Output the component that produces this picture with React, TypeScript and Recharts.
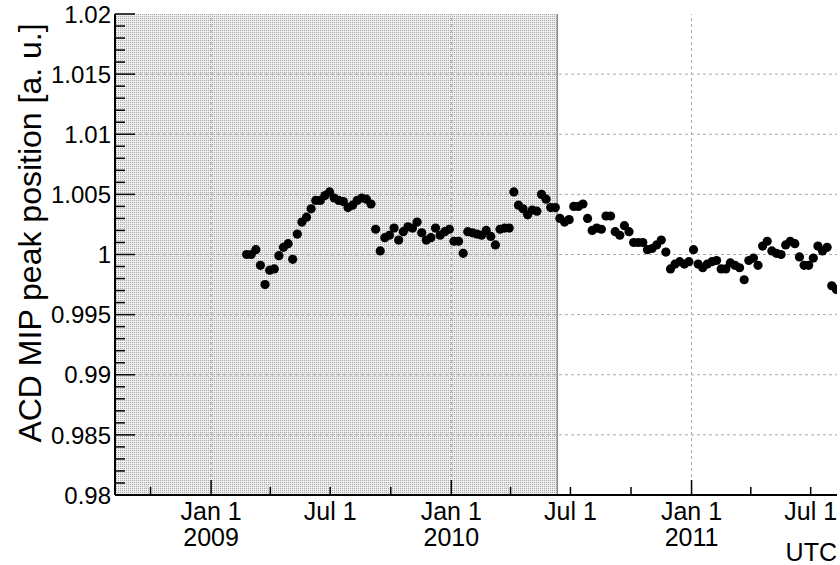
import { ScatterChart, Scatter, XAxis, YAxis, ReferenceArea, ReferenceLine, Label } from "recharts";

// weekly ACD calibration runs
const weeks = [
  "2009-02-24", "2009-03-03", "2009-03-10", "2009-03-17", "2009-03-24", "2009-03-31", "2009-04-07", "2009-04-14",
  "2009-04-21", "2009-04-28", "2009-05-05", "2009-05-12", "2009-05-19", "2009-05-26", "2009-06-02", "2009-06-09",
  "2009-06-16", "2009-06-23", "2009-06-30", "2009-07-07", "2009-07-14", "2009-07-21", "2009-07-28", "2009-08-04",
  "2009-08-11", "2009-08-18", "2009-08-25", "2009-09-01", "2009-09-08", "2009-09-15", "2009-09-22", "2009-09-29",
  "2009-10-06", "2009-10-13", "2009-10-20", "2009-10-27", "2009-11-03", "2009-11-10", "2009-11-17", "2009-11-24",
  "2009-12-01", "2009-12-08", "2009-12-15", "2009-12-22", "2009-12-29",
  "2010-01-05", "2010-01-12", "2010-01-19", "2010-01-26", "2010-02-02", "2010-02-09", "2010-02-16", "2010-02-23",
  "2010-03-02", "2010-03-09", "2010-03-16", "2010-03-23", "2010-03-30", "2010-04-06", "2010-04-13", "2010-04-20",
  "2010-04-27", "2010-05-04", "2010-05-11", "2010-05-18", "2010-05-25", "2010-06-01", "2010-06-08", "2010-06-15",
  "2010-06-22", "2010-06-29", "2010-07-06", "2010-07-13", "2010-07-20", "2010-07-27", "2010-08-03", "2010-08-10",
  "2010-08-17", "2010-08-24", "2010-08-31", "2010-09-07", "2010-09-14", "2010-09-21", "2010-09-28", "2010-10-05",
  "2010-10-12", "2010-10-19", "2010-10-26", "2010-11-02", "2010-11-09", "2010-11-16", "2010-11-23", "2010-11-30",
  "2010-12-07", "2010-12-14", "2010-12-21", "2010-12-28",
  "2011-01-04", "2011-01-11", "2011-01-18", "2011-01-25", "2011-02-01", "2011-02-08", "2011-02-15", "2011-02-22",
  "2011-03-01", "2011-03-08", "2011-03-15", "2011-03-22", "2011-03-29", "2011-04-05", "2011-04-12", "2011-04-19",
  "2011-04-26", "2011-05-03", "2011-05-10", "2011-05-17", "2011-05-24", "2011-05-31", "2011-06-07", "2011-06-14",
  "2011-06-21", "2011-06-28", "2011-07-05", "2011-07-12", "2011-07-19", "2011-07-26", "2011-08-02", "2011-08-09",
];

const peak = [
  1.0, 1.0, 1.0004, 0.9991, 0.9975, 0.9987, 0.9988, 0.9999, 1.0006, 1.0009, 0.9996, 1.0017, 1.0027, 1.0031, 1.0038,
  1.0045, 1.0045, 1.0049, 1.0052, 1.0047, 1.0045, 1.0044, 1.0039, 1.0041, 1.0045, 1.0047, 1.0046, 1.0042, 1.0021,
  1.0003, 1.0014, 1.0016, 1.0022, 1.0012, 1.0019, 1.0023, 1.0022, 1.0027, 1.0018, 1.0012, 1.0014, 1.0022, 1.0016,
  1.0019, 1.0021,
  1.0011, 1.0011, 1.0001, 1.0019, 1.0018, 1.0017, 1.0016, 1.002, 1.0015, 1.0008, 1.0021, 1.0022, 1.0022, 1.0052,
  1.0041, 1.0038, 1.0033, 1.0037, 1.0036, 1.005, 1.0046, 1.0039, 1.0039, 1.003, 1.0027, 1.0029, 1.004, 1.004, 1.0042,
  1.003, 1.002, 1.0022, 1.0021, 1.0032, 1.0032, 1.0019, 1.0016, 1.0024, 1.0019, 1.001, 1.001, 1.001, 1.0004, 1.0005,
  1.0008, 1.0012, 1.0002, 0.9988, 0.9992, 0.9994, 0.9992, 0.9994,
  1.0004, 0.9992, 0.9989, 0.9992, 0.9994, 0.9995, 0.9988, 0.9988, 0.9993, 0.9991, 0.9989, 0.9979, 0.9995, 0.9997,
  0.9991, 1.0007, 1.0011, 1.0003, 1.0001, 1.0, 1.0008, 1.0011, 1.0009, 0.9998, 0.9991, 0.9991, 0.9997, 1.0007,
  1.0003, 1.0006, 0.9974, 0.9971,
];

const xRange = ["2008-08-08", "2011-08-10"];
const calibEnd = "2010-06-11";
const quarterTicks = [
  "2008-10-01", "2009-01-01", "2009-04-01", "2009-07-01", "2009-10-01", "2010-01-01",
  "2010-04-01", "2010-07-01", "2010-10-01", "2011-01-01", "2011-04-01", "2011-07-01",
];
const yearLines = ["2009-01-01", "2010-01-01", "2011-01-01"];
const monthLabels: Record<number, string> = { 0: "Jan 1", 6: "Jul 1" };
const yMajor = [0.98, 0.985, 0.99, 0.995, 1.0, 1.005, 1.01, 1.015, 1.02];

const t = (d: string) => Date.parse(d + "T00:00:00Z");
const points = weeks.map((w, i) => ({ t: t(w), v: peak[i] }));
const xDomain = [t(xRange[0]), t(xRange[1])];
const xTicks = quarterTicks.map(t);
const yTicks = Array.from({ length: 41 }, (_, i) => Number((0.98 + i * 0.001).toFixed(3)));
const isMajor = (v: number) => Math.round(v * 1000) % 5 === 0;

const FONT = "'Liberation Sans', Arial, sans-serif";
const FS = 24;

function BottomTick({ x, y, payload }: any) {
  const d = new Date(payload.value);
  const m = d.getUTCMonth();
  return (
    <g>
      <line x1={x} x2={x} y1={y} y2={y - (m === 0 ? 15 : 8)} stroke="#000" strokeWidth={1.5} />
      {monthLabels[m] && (
        <text x={x} y={y + 25} textAnchor="middle" fontSize={25} fontFamily={FONT} fill="#000">
          {monthLabels[m]}
        </text>
      )}
      {m === 0 && (
        <text x={x} y={y + 51} textAnchor="middle" fontSize={25} fontFamily={FONT} fill="#000">
          {d.getUTCFullYear()}
        </text>
      )}
    </g>
  );
}

function TopTick({ x, y, payload }: any) {
  const m = new Date(payload.value).getUTCMonth();
  return <line x1={x} x2={x} y1={y} y2={y + (m === 0 ? 15 : 8)} stroke="#000" strokeWidth={1.5} />;
}

function LeftTick({ x, y, payload }: any) {
  const v = payload.value;
  const major = isMajor(v);
  return (
    <g>
      <line x1={x} x2={x + (major ? 20 : 10)} y1={y} y2={y} stroke="#000" strokeWidth={1.5} />
      {major && (
        <text x={x - 4} y={y} dy="0.36em" textAnchor="end" fontSize={FS} fontFamily={FONT} fill="#000">
          {String(Number(v.toFixed(3)))}
        </text>
      )}
    </g>
  );
}

function RightTick({ x, y, payload }: any) {
  const major = isMajor(payload.value);
  return <line x1={x} x2={x - (major ? 20 : 10)} y1={y} y2={y} stroke="#000" strokeWidth={1.5} />;
}

const Dot = ({ cx, cy }: any) => <circle cx={cx} cy={cy} r={4.6} fill="#000" />;

const frame = { stroke: "#000", strokeWidth: 2 };

export default function App() {
  return (
    <div style={{ position: "absolute", left: 0, top: 0, width: 840, height: 565, background: "#fff" }}>
      <svg width={0} height={0} style={{ position: "absolute" }}>
        <defs>
          <pattern id="calibDots" width={2} height={2} patternUnits="userSpaceOnUse">
            <rect width={2} height={2} fill="#eeeeee" />
            <rect width={1} height={1} fill="#a8a8a8" />
          </pattern>
        </defs>
      </svg>
      <ScatterChart width={840} height={565} margin={{ top: 14, right: 3, bottom: 0, left: 0 }}>
        <XAxis
          dataKey="t"
          type="number"
          domain={xDomain}
          ticks={xTicks}
          interval={0}
          tick={<BottomTick />}
          tickLine={false}
          tickSize={0}
          tickMargin={0}
          axisLine={frame}
          height={70}
          allowDataOverflow
        >
          <Label
            content={({ viewBox }: any) => (
              <text
                x={viewBox.x + viewBox.width}
                y={viewBox.y + viewBox.height - 4}
                textAnchor="end"
                fontSize={25}
                fontFamily={FONT}
                fill="#000"
              >
                UTC
              </text>
            )}
          />
        </XAxis>
        <XAxis
          xAxisId="top"
          orientation="top"
          type="number"
          domain={xDomain}
          ticks={xTicks}
          interval={0}
          tick={<TopTick />}
          tickLine={false}
          tickSize={0}
          tickMargin={0}
          axisLine={frame}
          height={0}
          allowDataOverflow
        />
        <YAxis
          dataKey="v"
          type="number"
          domain={[0.98, 1.02]}
          ticks={yTicks}
          interval={0}
          tick={<LeftTick />}
          tickLine={false}
          tickSize={0}
          tickMargin={0}
          axisLine={frame}
          width={115}
          allowDataOverflow
        >
          <Label
            content={() => {
              const cx = 41;
              const cy = 233;
              return (
                <text
                  x={cx}
                  y={cy}
                  transform={`rotate(-90 ${cx} ${cy})`}
                  textAnchor="middle"
                  fontSize={32}
                  fontFamily={FONT}
                  fill="#000"
                >
                  ACD MIP peak position [a. u.]
                </text>
              );
            }}
          />
        </YAxis>
        <YAxis
          yAxisId="right"
          orientation="right"
          type="number"
          domain={[0.98, 1.02]}
          ticks={yTicks}
          interval={0}
          tick={<RightTick />}
          tickLine={false}
          tickSize={0}
          tickMargin={0}
          axisLine={frame}
          width={0}
          allowDataOverflow
        />
        <ReferenceArea x1={xDomain[0]} x2={t(calibEnd)} fill="url(#calibDots)" fillOpacity={1} stroke="none" />
        <ReferenceLine x={t(calibEnd)} stroke="#8c8c8c" strokeWidth={1.5} />
        {yMajor.slice(1, -1).map((v) => (
          <ReferenceLine key={v} y={v} stroke="#a8a8a8" strokeDasharray="3 3" />
        ))}
        {yearLines.map((d) => (
          <ReferenceLine key={d} x={t(d)} stroke="#a8a8a8" strokeDasharray="3 3" />
        ))}
        <Scatter data={points} dataKey="v" shape={<Dot />} isAnimationActive={false} />
      </ScatterChart>
    </div>
  );
}
